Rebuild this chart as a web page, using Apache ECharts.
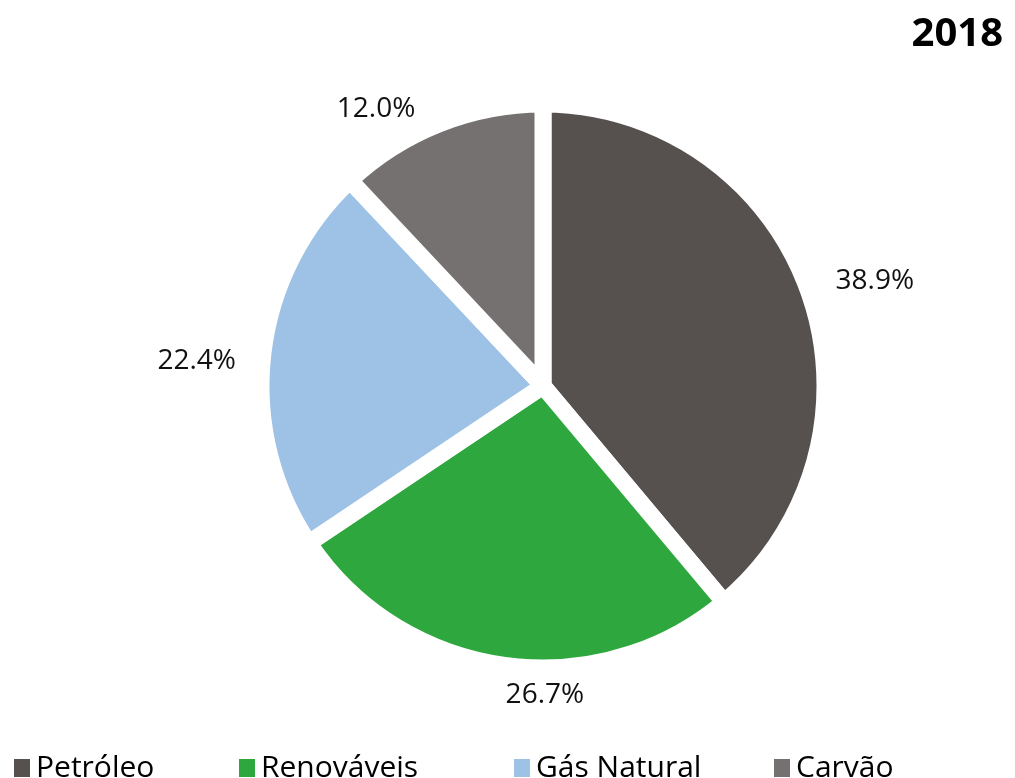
<!DOCTYPE html>
<html><head><meta charset="utf-8">
<script src="https://cdn.jsdelivr.net/npm/echarts@6/dist/echarts.min.js"></script>
<style>html,body{margin:0;padding:0;background:#fff}#c{width:1015px;height:778px}</style>
</head><body><div id="c"></div>
<script>
const categories = ['Petróleo', 'Renováveis', 'Gás Natural', 'Carvão'];
const values = [38.9, 26.7, 22.4, 12.0];
const colors = ['#56504f', '#2ea83e', '#9dc2e6', '#767171'];
const title = '2018';
const legendLeft = [7, 232, 507, 767];

const chart = echarts.init(document.getElementById('c'));
const font = '"Open Sans", sans-serif';
chart.setOption({
  animation: false,
  title: { text: title, right: 7, top: 10, textStyle: { fontFamily: font, fontWeight: 'bold', fontSize: 40, color: '#000' } },
  legend: categories.map((c, i) => ({
    data: [c], left: legendLeft[i], top: 748, itemWidth: 18, itemHeight: 20, icon: 'rect',
    textStyle: { fontFamily: font, fontSize: 30, color: '#000' }, itemGap: 6
  })),
  series: [{
    type: 'pie',
    center: [543, 386],
    radius: [0, 282],
    startAngle: 90,
    clockwise: true,
    data: categories.map((c, i) => ({ name: c, value: values[i], itemStyle: { color: colors[i] } })),
    itemStyle: { borderColor: '#fff', borderWidth: 17 },
    label: { show: true, position: 'outside', formatter: p => p.value.toFixed(1) + '%', fontFamily: font, fontSize: 28, color: '#111' },
    labelLine: { show: false, length: 24, length2: 0 },
    labelLayout: p => {
      if (p.dataIndex === 1) return { dx: p.labelRect.width / 2 + 50, dy: 6 };
      if (p.dataIndex === 2) return { dx: 2, dy: 10 };
      if (p.dataIndex === 3) return { dx: -10, dy: 8 };
      return {};
    }
  }]
});
</script></body></html>
